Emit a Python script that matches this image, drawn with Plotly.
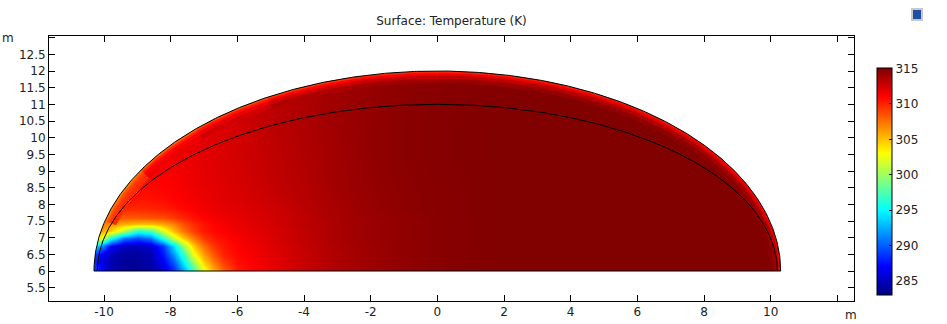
import numpy as np
import plotly.graph_objects as go
import plotly.colors as pc

# ---------------- data ----------------
# temperature field (K) sampled on a coarse grid
x_nodes = [-10.4, -10.1, -9.8, -9.4, -9.0, -8.6, -8.2, -7.9, -7.6, -7.3, -7.0, -6.7, -6.4,
           -6.0, -5.0, -4.0, -3.0, -2.0, -1.0, 0.0, 1.0, 2.0, 4.0, 7.0, 10.4]
y_nodes = [6.0, 6.25, 6.5, 6.75, 7.0, 7.2, 7.4, 7.6, 7.85, 8.2, 8.7, 9.5, 10.5, 12.0]

t_y600 = [290, 287.5, 285, 284, 283.8, 284.2, 285.8, 288.2, 292.2, 297, 302.1, 305.4, 307.9,
          310.2, 311.7, 312.8, 313.6, 314.1, 314.5, 314.75, 314.9, 315, 315, 315, 315]
t_y625 = [289.5, 286.5, 284.5, 283.8, 283.8, 284.4, 286.7, 289.6, 294.5, 299.7, 304.3, 307.1, 309.1,
          310.6, 311.8, 312.8, 313.6, 314.1, 314.5, 314.75, 314.9, 315, 315, 315, 315]
t_y650 = [291, 287, 285, 284, 284, 284.6, 287.9, 291.9, 297.1, 302.8, 306.2, 308.4, 310.1,
          310.9, 311.9, 312.8, 313.6, 314.1, 314.5, 314.75, 314.9, 315, 315, 315, 315]
t_y675 = [296, 292, 287, 285, 285, 285.5, 289, 294.1, 300, 304.8, 307.6, 309.4, 310.4,
          311.1, 312, 312.9, 313.6, 314.1, 314.5, 314.75, 314.9, 315, 315, 315, 315]
t_y700 = [304, 303, 296, 291, 289.5, 291, 296.7, 301.5, 304.9, 307.4, 309.3, 310.3, 310.7,
          311.3, 312.1, 313, 313.7, 314.2, 314.5, 314.75, 314.9, 315, 315, 315, 315]
t_y720 = [306.5, 306, 304.5, 300.7, 296, 297.2, 302.1, 305.2, 307.5, 309.2, 310.3, 310.8, 311.1,
          311.5, 312.2, 313, 313.7, 314.2, 314.5, 314.75, 314.9, 315, 315, 315, 315]
t_y740 = [307.5, 307.3, 306.5, 305.5, 305, 305, 305.8, 307, 308.6, 309.7, 310.5, 311, 311.3,
          311.7, 312.3, 313.1, 313.7, 314.2, 314.5, 314.75, 314.9, 315, 315, 315, 315]
t_y760 = [308.5, 308.5, 308.3, 308.2, 308.2, 308.3, 308.6, 309.2, 309.9, 310.5, 311, 311.3, 311.5,
          311.8, 312.4, 313.1, 313.8, 314.2, 314.5, 314.75, 314.9, 315, 315, 315, 315]
t_y785 = [309.8, 309.8, 309.8, 309.8, 309.8, 309.9, 310.1, 310.4, 310.8, 311.1, 311.4, 311.6, 311.8,
          312, 312.5, 313.2, 313.8, 314.3, 314.6, 314.8, 314.9, 315, 315, 315, 315]
t_y820 = [310.5, 310.5, 310.5, 310.5, 310.5, 310.6, 310.8, 311, 311.2, 311.4, 311.6, 311.8, 312,
          312.2, 312.7, 313.3, 313.9, 314.3, 314.6, 314.8, 314.9, 315, 315, 315, 315]
t_y870 = [311, 311, 311, 311, 311, 311, 311.1, 311.2, 311.4, 311.6, 311.8, 311.9, 312.1,
          312.3, 312.9, 313.4, 314, 314.4, 314.65, 314.8, 314.9, 315, 315, 315, 315]
t_y950 = [311.5, 311.5, 311.5, 311.5, 311.5, 311.5, 311.5, 311.5, 311.6, 311.7, 311.9, 312, 312.2,
          312.4, 313, 313.5, 314, 314.45, 314.7, 314.85, 314.95, 315, 315, 315, 315]
t_y1050 = [312, 312, 312, 312, 312, 312, 312, 312, 312, 312, 312, 312.1, 312.2,
           312.5, 313.1, 313.6, 314.1, 314.45, 314.7, 314.85, 314.95, 315, 315, 315, 315]
t_y1200 = [312.8, 312.8, 312.8, 312.8, 312.8, 312.8, 312.8, 312.8, 312.8, 312.8, 312.8, 312.8, 312.8,
           312.8, 313.2, 313.6, 314, 314.3, 314.6, 314.7, 314.8, 314.9, 315, 315, 315]

# cooler rim just inside the outer boundary, per 15-degree sector (0 = right end)
rim_sector_start = [0, 15, 30, 45, 60, 75, 90, 105, 120, 135, 150]
rim_t_band1 = [311.5, 311, 310.8, 310.5, 310.3, 310, 309.8, 309.3, 308.8, 308, 307]
rim_t_band2 = [313, 312.5, 312.3, 312, 311.8, 311.5, 311.3, 311, 310.5, 310, 308.5]
rim_t_band3 = [314.3, 314, 313.8, 313.5, 313.3, 313, 312.8, 312.5, 311.7, 311, 309.3]
rim_t_band4 = [314.8, 314.7, 314.6, 314.5, 314.4, 314.2, 314, 313.6, 312.5, 311.6, 309.8]

colorbar_ticks = [285, 290, 295, 300, 305, 310, 315]
x_ticks = [-10, -8, -6, -4, -2, 0, 2, 4, 6, 8, 10, 12]
y_ticks = [5.5, 6, 6.5, 7, 7.5, 8, 8.5, 9, 9.5, 10, 10.5, 11, 11.5, 12, 12.5, 13]

# geometry of the domain (semi-ellipses on the line y = 6)
Y0 = 6.0
A_OUT, B_OUT = 10.3, 6.0
A_IN, B_IN = 10.2, 5.0

# ---------------- styling ----------------
T_MIN, T_MAX = 283.0, 315.05
jet = [[0.0, "rgb(0,0,127)"], [0.125, "rgb(0,0,255)"], [0.375, "rgb(0,255,255)"],
       [0.625, "rgb(255,255,0)"], [0.875, "rgb(255,0,0)"], [1.0, "rgb(127,0,0)"]]
FONT = "DejaVu Sans, Verdana, sans-serif"

z = [t_y600, t_y625, t_y650, t_y675, t_y700, t_y720, t_y740, t_y760, t_y785,
     t_y820, t_y870, t_y950, t_y1050, t_y1200]

fig = go.Figure()
fig.add_trace(go.Heatmap(x=x_nodes, y=y_nodes, z=z, zsmooth="best",
                         coloraxis="coloraxis", hoverinfo="skip"))


def ell(a, b, t, delta=0.0):
    nx, ny = b * np.cos(t), a * np.sin(t)
    nn = np.hypot(nx, ny)
    return a * np.cos(t) - delta * nx / nn, Y0 + b * np.sin(t) - delta * ny / nn


def tcolor(T):
    return pc.sample_colorscale(jet, [(T - T_MIN) / (T_MAX - T_MIN)])[0]


band_edges = [0.0, 0.05, 0.12, 0.22, 0.35]
bands = [rim_t_band1, rim_t_band2, rim_t_band3, rim_t_band4]
for bi in range(3, -1, -1):
    d0, d1 = band_edges[bi], band_edges[bi + 1]
    for si, s0 in enumerate(rim_sector_start):
        t = np.radians(np.linspace(s0 - 0.3, s0 + 15.3, 24))
        t = np.clip(t, 0, np.pi)
        xo, yo = ell(A_OUT, B_OUT, t, d0)
        xi, yi = ell(A_OUT, B_OUT, t[::-1], d1)
        col = tcolor(bands[bi][si])
        fig.add_trace(go.Scatter(x=np.r_[xo, xi], y=np.r_[yo, yi], mode="lines",
                                 fill="toself", fillcolor=col,
                                 line=dict(color=col, width=0.6),
                                 hoverinfo="skip", showlegend=False))

# white mask outside the domain
tt = np.linspace(np.pi, 0, 400)
ex, ey = ell(A_OUT, B_OUT, tt)
mx = np.r_[-14, ex, 15, 15, -14, -14, None, -14, 15, 15, -14, -14]
my = np.r_[Y0, ey, Y0, 15, 15, Y0, None, 3, 3, Y0, Y0, 3]
fig.add_trace(go.Scatter(x=mx, y=my, mode="lines", fill="toself", fillcolor="white",
                         line=dict(width=0, color="white"), hoverinfo="skip",
                         showlegend=False))

# outlines
to = np.linspace(0, np.pi, 500)
ox, oy = ell(A_OUT, B_OUT, to)
fig.add_trace(go.Scatter(x=np.r_[ox, ox[0]], y=np.r_[oy, oy[0]], mode="lines",
                         line=dict(color="black", width=1), hoverinfo="skip",
                         showlegend=False))
ix, iy = ell(A_IN, B_IN, to)
fig.add_trace(go.Scatter(x=ix, y=iy, mode="lines", line=dict(color="black", width=1),
                         hoverinfo="skip", showlegend=False))

axis_common = dict(showline=True, linecolor="black", linewidth=1, mirror="allticks",
                   ticks="inside", ticklen=6, tickcolor="black", showgrid=False,
                   zeroline=False, tickfont=dict(family=FONT, size=12, color="#222"))

fig.update_layout(
    width=947, height=324,
    margin=dict(l=49, r=93, t=36, b=23, autoexpand=False),
    paper_bgcolor="white", plot_bgcolor="white",
    showlegend=False,
    title=dict(text="Surface: Temperature (K)", x=0.5, xref="paper", xanchor="center",
               y=1 - 21 / 324, yref="container", yanchor="middle",
               font=dict(family=FONT, size=12, color="#222")),
    xaxis=dict(range=[-11.65, 12.5], tickvals=x_ticks,
               ticktext=[str(v) for v in x_ticks[:-1]] + [""], **axis_common),
    yaxis=dict(range=[5.1, 13.05], tickvals=y_ticks,
               ticktext=[("%g" % v) for v in y_ticks[:-1]] + [""], **axis_common),
    coloraxis=dict(
        colorscale=jet, cmin=T_MIN, cmax=T_MAX,
        colorbar=dict(x=(876.7 - 49) / 805, xanchor="left", xpad=0, ypad=0,
                      y=(301 - 181.7) / 265, yanchor="middle",
                      len=227, lenmode="pixels", thickness=15, thicknessmode="pixels",
                      outlinecolor="black", outlinewidth=1,
                      tickvals=colorbar_ticks, ticks="inside", ticklen=3,
                      tickcolor="black",
                      tickfont=dict(family=FONT, size=12, color="#222"))),
    annotations=[
        dict(text="m", xref="paper", yref="paper", x=(7.5 - 49) / 805, y=(301 - 37.5) / 265,
             showarrow=False, font=dict(family=FONT, size=12, color="#222"),
             xanchor="center", yanchor="middle"),
        dict(text="m", xref="paper", yref="paper", x=(851 - 49) / 805, y=(301 - 315) / 265,
             showarrow=False, font=dict(family=FONT, size=12, color="#222"),
             xanchor="center", yanchor="middle"),
    ],
    shapes=[dict(type="rect", xref="paper", yref="paper",
                 x0=(912 - 49) / 805, x1=(922 - 49) / 805,
                 y0=(301 - 20) / 265, y1=(301 - 9) / 265,
                 fillcolor="#1d4fa6", line=dict(color="#c8c8c8", width=2))],
)

fig.write_html("out.html")
